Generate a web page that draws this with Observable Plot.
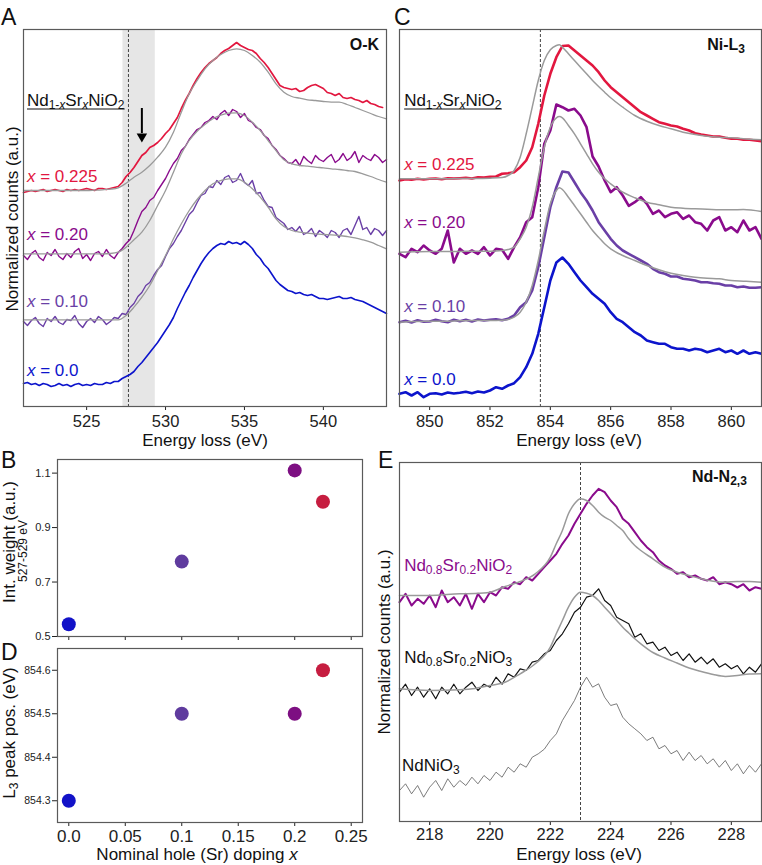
<!DOCTYPE html>
<html><head><meta charset="utf-8">
<script src="https://cdn.jsdelivr.net/npm/d3@7"></script>
<script src="https://cdn.jsdelivr.net/npm/@observablehq/plot@0.6"></script>
<style>
body{margin:0;background:#fff;}
#fig{position:relative;width:762px;height:865px;overflow:hidden;background:#fff;}
</style></head><body><div id="fig"></div>
<script>
// ================= DATA =================
// Panel A: O-K edge (energy loss, eV) — noisy spectra sampled every 0.25 eV
const eOK = [521,521.25,521.5,521.75,522,522.25,522.5,522.75,523,523.25,523.5,523.75,524,524.25,524.5,524.75,525,525.25,525.5,525.75,526,526.25,526.5,526.75,527,527.25,527.5,527.75,528,528.25,528.5,528.75,529,529.25,529.5,529.75,530,530.25,530.5,530.75,531,531.25,531.5,531.75,532,532.25,532.5,532.75,533,533.25,533.5,533.75,534,534.25,534.5,534.75,535,535.25,535.5,535.75,536,536.25,536.5,536.75,537,537.25,537.5,537.75,538,538.25,538.5,538.75,539,539.25,539.5,539.75,540,540.25,540.5,540.75,541,541.25,541.5,541.75,542,542.25,542.5,542.75,543,543.25,543.5,543.75,544];
const okX000 = [23,24,22,23, 21,23,22,20, 21,23,21,22, 20,22,23,21, 22,21,23,22, 22,24,23,25, 25,28,30,32, 35,40,44,49, 54,59,64,70, 76,82,89,98, 106,114,121,129, 136,143,149,154, 158,161,163,162, 165,163,164,162, 165,162,158,152, 148,142,138,132, 126,122,119,116, 115,113,114,112, 111,112,110,108, 108,107,108,109, 110,108,108,109, 107,106,105,103, 101,99,97,95, 93];
const okX010 = [85,81,86,89, 83,80,88,85, 90,84,82,87, 86,91,83,79, 85,88,84,90, 87,82,85,89, 88,93,92,99, 103,110,114,121, 124,131,137,141, 150,158,163,170, 176,184,192,196, 204,211,213,220, 219,226,222,229, 231,224,226,233, 224,221,226,213, 214,206,200,199, 189,186,183,177, 179,175,180,172, 174,178,170,176, 173,169,176,174, 169,176,178,172, 181,190,177,179, 172,178,176,171, 176];
const okX020 = [151,147,153,156, 149,146,154,151, 157,150,147,153, 149,155,158,148, 152,146,153,155, 150,157,151,148, 154,158,163,167, 176,186,195,199, 206,209,216,222, 228,236,243,248, 256,260,267,272, 277,279,284,286, 290,287,293,296, 291,297,295,289, 293,286,284,279, 277,271,268,261, 257,251,248,244, 243,247,241,250, 246,243,251,247, 245,249,252,244, 247,253,246,249, 255,244,251,248, 246,252,249,244, 247];
const okX0225 = [214,215,216,215, 216,217,215,216, 217,216,215,217, 216,217,216,217, 218,217,216,218, 218,217,218,219, 220,224,230,234, 239,245,251,254, 259,261,264,268, 273,277,283,289, 298,306,313,321, 328,334,339,343, 346,349,353,356, 358,361,364,361, 359,357,356,353, 348,344,339,333, 327,321,319,318, 317,318,315,316, 319,321,322,320, 318,314,313,311, 313,309,308,309, 307,306,304,306, 303,302,300,299, null];
// Panel A reference (gray) curves, sampled every 0.5 eV
const eOKref = [521,521.5,522,522.5,523,523.5,524,524.5,525,525.5,526,526.5,527,527.5,528,528.5,529,529.5,530,530.5,531,531.5,532,532.5,533,533.5,534,534.5,535,535.5,536,536.5,537,537.5,538,538.5,539,539.5,540,540.5,541,541.5,542,542.5,543,543.5,544];
const okRef010 = [86.7,86.7,86.7,86.7,86.7,86.7,86.7,86.7,86.7,86.7,86.7,86.7,86.7, 91,99.3,109.3,121,136,151,167.7,182.7,196,207,216,222.7,226,227.7,227.7,224.3,217.7,209.3,199.3,187.7,180,176,174.3,173.3,172.7,172,171.7,171,170,168.7,166.7,164.3,161,157.7];
const okRef020 = [152.7,152.7,152.7,152.7,152.7,152.7,152.7,152.7,152.7,152.7,152.7,153, 154.3,159.3,166.7,174.3,186,201,216,234.3,252.7,266,275.3,282,287.7,291.3,293.3,293.7,291,284.3,276,266,256,246.7,242.7,241,240.3,239.3,238.7,237.7,237,236,235,232.7,230,227,224.3];
const okRef0225 = [216,216,216,216,216,216,216,216,216, 216.3,216.7,217.3,218.7,223.3,229.3,234.3,241,249.3,259.3,274.3,294.3,312.7,326,337.7,346,352,356,357.7,356,351,344.3,334.3,322.7,314.3,310,308.3,306.7,306,305,304.3,304.3,302,299,296,293,290,287.7];
const bandOK = [527.3, 529.35];
const dashOK = [527.65];
const ticksOK = [525, 530, 535, 540];

// Panel C: Ni-L3 edge, sampled every 0.2 eV
const eNi = [849,849.2,849.4,849.6,849.8,850,850.2,850.4,850.6,850.8,851,851.2,851.4,851.6,851.8,852,852.2,852.4,852.6,852.8,853,853.2,853.4,853.6,853.8,854,854.2,854.4,854.6,854.8,855,855.2,855.4,855.6,855.8,856,856.2,856.4,856.6,856.8,857,857.2,857.4,857.6,857.8,858,858.2,858.4,858.6,858.8,859,859.2,859.4,859.6,859.8,860,860.2,860.4,860.6,860.8,861];
const niX000 = [12.7,14.3,11,14.3,9.3, 12.7,13.3,12,14,13, 13.7,14.7,13.3,15,14, 16,19.3,17.7,21,23.3, 29.3,39.3,52.7,72.7,99.3, 126,144,149,142.7,134.3, 126,119.3,112.7,107.7,102.7, 94.3,87.7,84.3,79.3,74.3, 71,66,64.3,62.7,62.7, 59.3,57.7,57.7,56,57.7, 56.7,54.3,56,57.7,54.3, 56,52.7,56,52.7,54.3, 52.7];
const niX010 = [84.3,85.7,84,86.3,84.7, 85,86.7,85.3,84.3,86.7, 85.3,86.7,85,87,86, 86.7,87.3,86.3,87.7,91, 99.3,104.3,116,139.3,169.3, 199.3,219.3,235,234,224.3, 214.3,206,196,184.3,176, 167.7,161,156,152.7,149.3, 146,142.7,137.7,134.3,132.7, 130,130,127.7,127,126, 124.3,124.3,123.3,122.7,121, 121,119.3,120,118.7,118.7, 119.3];
const niX020 = [152.7,149.3,157.7,154.3,161, 156,152.7,157.7,176,144, 157.7,152.7,156,152.7,159.3, 151,157.7,156.7,147.7,159.3, 169.3,184.3,189.3,219.3,262.7, 276,302,299.3,296,297.7, 291,279.3,250,240,226, 214.3,219.3,211,200.7,204.3, 209.3,202.7,192.7,196,189.3, 192.7,194.3,187.7,191,184.3, 182.7,176,186,189.3,176, 179.3,174.3,186,176,179.3, 167.7];
const niX0225 = [226,227.3,226.7,227.7,227, 227.7,228,227.3,228.3,228, 228.3,228.7,228,229.3,229, 229.7,230,232.7,233.3,234.3, 239.3,246,259.3,282.7,311, 332.7,349.3,360.5,361,356, 351,346,341,334.3,326, 319.3,314.3,309.3,304.3,299.3, 294.3,291,287.7,284.3,282.7, 281,280,277.7,276,273.3, 272,271,270,270,268.7, 267.7,267.7,266.7,266.7,266, 265.3];
const eNiRef = [849,849.5,850,850.5,851,851.5,852,852.4,852.6,852.8,853,853.2,853.4,853.6,853.8,854,854.2,854.3,854.4,854.6,854.8,855,855.2,855.4,855.6,855.8,856,856.4,856.8,857.2,857.6,858,858.4,858.8,859.2,859.6,860,860.4,861];
const niRef010 = [84.3,85,85.3,85.3,85.7,86,86,86.3,87,89.3,94.3,104.3,121,146,176,202.7,216,218.7,217,209.3,201,192.7,184.3,176,169.3,162.7,157.7,151,146,141,136.7,133.3,131,129.3,128.3,127.7,126,125.3,124.3];
const niRef020 = [154.3,154.7,155,155,155,155.3,155.3,156,157,159.3,167.7,179.3,199.3,229.3,259.3,279.3,288.7,290,288.7,281,272.7,262.7,252.7,242.7,234.3,227.7,222.7,214.3,208.7,204.3,201.7,199.3,198.3,197.7,197.3,196.7,196.7,197,195];
const niRef0225 = [227.7,227.7,227.7,227.7,228,228,228.3,229,231,236,249.3,272.7,299.3,326,346,356.7,361,361.7,359.3,352.7,346,339.3,332.7,326,320,314.3,308.7,299.3,291,285.3,281,277.7,274.3,272,270.3,269.3,268.7,267.7,266.7];
const dashNi = [853.67];
const ticksNi = [850, 852, 854, 856, 858, 860];

// Panel E: Nd-N2,3 edge, sampled every 0.2 eV
const eNd = [217,217.2,217.4,217.6,217.8,218,218.2,218.4,218.6,218.8,219,219.2,219.4,219.6,219.8,220,220.2,220.4,220.6,220.8,221,221.2,221.4,221.6,221.8,222,222.2,222.4,222.6,222.8,223,223.2,223.4,223.6,223.8,224,224.2,224.4,224.6,224.8,225,225.2,225.4,225.6,225.8,226,226.2,226.4,226.6,226.8,227,227.2,227.4,227.6,227.8,228,228.2,228.4,228.6,228.8,229];
const ndNiO2Sr = [219.3,227.7,216,222.7,217.7, 226,214.3,231,219.3,224.3, 216,227.7,212.7,227.7,219.3, 229.3,226,234.3,232.7,239.3, 237.3,244.3,241,247.7,254.3, 261,267.7,277.7,286,297.7, 307.7,317.7,326,332.7,329.3, 321,314.3,302.7,297.7,289.3, 281,274.3,269.3,261,256, 252.7,247.7,249.3,244.3,246, 242.7,241,244.3,237.3,239.3, 237.3,234,237.3,231,234.3, 232.7];
const ndNiO3Sr = [129.3,137.3,126,134.3,124.3, 132.7,122.7,134.3,127.7,137.3, 127.7,134.3,139.3,131,137.3, 134.3,144.3,137.3,147.7,144.3, 152.7,151,159.3,161,167.7, 171,181,187.7,197.7,209.3, 214.3,224.3,226,232.7,221, 216,204.3,201,197.7,184.3, 187.7,177.7,179.3,171,174.3, 166,169.3,161,167.7,159.3, 164.3,157.7,162.7,154.3,157.7, 152.7,156,147.7,154.3,149.3, 157.7];
const ndNiO3 = [31,37.7,27.7,36,24.3, 34.3,41,31,42.7,34.3, 41,36,44.3,37.7,46, 41,49.3,44.3,54.3,49.3, 57.7,54.3,64.3,67.7,72.3, 81,87.7,101,111,121, 134.3,144.3,134.3,137.7,124.3, 116,117.7,104.3,97.7,92.7, 87.7,81,84.3,72.7,76, 67.7,71,61,69.3,61, 66,57.7,62.7,54.3,61, 51,57.7,47.7,56,49.3, 57.7];
const eNdRef = [217,218,219,219.5,220,220.5,221,221.5,222,222.2,222.4,222.6,222.8,223,223.2,223.4,223.6,223.8,224,224.2,224.4,224.6,224.8,225,225.4,225.8,226.2,226.6,227,227.4,227.8,228.2,228.6,229];
const ndRefNiO2 = [226,226,227.7,228,229.3,235,240,247.7,264.3,278,291,307.7,317.7,322.7,321,316,309.3,304.3,301,296,291,282.7,276,271,262.7,254.3,249.3,246,242.7,240.3,239.3,240,240,239.3];
const ndRefNiO3 = [132.7,131,131.7,133,136,139.3,147.7,157.7,174.3,188,201,214.3,224.3,229.3,228.3,226,221,214.3,207.7,201,194.3,188.5,182.7,177.7,169,163.5,158.5,153.5,150,147,145,146,147.5,147.7];
const dashNd = [223];
const ticksNd = [218, 220, 222, 224, 226, 228];

// Panels B and D: per-doping summary values
const dopingX = [0.0, 0.1, 0.2, 0.225];
const intWeight = [0.545, 0.775, 1.11, 0.995];
const peakPos = [854.3, 854.5, 854.5, 854.6];
const ticksIntW = [0.5, 0.7, 0.9, 1.1];
const ticksPeak = [854.3, 854.4, 854.5, 854.6];
const ticksDoping = [0, 0.05, 0.1, 0.15, 0.2, 0.25];
const dopingTickLabels = ["0.0", "0.05", "0.1", "0.15", "0.2", "0.25"];
const dopingLabels = ["0.0", "0.10", "0.20", "0.225"];

// ================= STYLE =================
const FONT = '"Liberation Sans", Arial, Helvetica, sans-serif';
const C_RED = "#e2173f", C_PUR = "#8a0b8c", C_VIO = "#6a3fa6", C_BLU = "#0c14cc";
const DOT_COLORS = ["#1212c8", "#5f3b9e", "#7d0f82", "#c61d40"];
const GRAY = "#9a9a9a", FRAME = "#5a5a5a";
const fig = document.getElementById("fig");

function mount(p, left, top) {
  p.style.position = "absolute"; p.style.left = left + "px"; p.style.top = top + "px";
  fig.appendChild(p); return p;
}
function sc(p, name, v) {
  const s = p.scale(name);
  return s.apply ? s.apply(v) : d3.scaleLinear(s.domain, s.range)(v);
}
const st = (fs) => ({fontFamily: FONT, fontSize: fs + "px", color: "#222", background: "transparent", overflow: "visible"});
const line = (xs, ys, stroke, w, extra = {}) => Plot.line(xs, {x: xs, y: ys, stroke, strokeWidth: w, strokeLinejoin: "round", ...extra});

// ---------- Panel A ----------
const pA = mount(Plot.plot({
  width: 390, height: 445, marginLeft: 23, marginRight: 4, marginTop: 29, marginBottom: 39,
  style: st(16.5),
  x: {domain: [521, 544], ticks: ticksOK, tickSize: 4, tickPadding: 5, label: null},
  y: {domain: [0, 377], axis: null},
  marks: [
    Plot.rect([bandOK], {x1: d => d[0], x2: d => d[1], fill: "#e6e6e6"}),
    Plot.ruleX(dashOK, {stroke: "#444", strokeWidth: 1, strokeDasharray: "3,2"}),
    line(eOK, okX000, C_BLU, 1.6),
    line(eOK, okX010, C_VIO, 1.4),
    line(eOK, okX020, C_PUR, 1.4),
    line(eOK, okX0225, C_RED, 1.7),
    line(eOKref, okRef010, GRAY, 1.3, {curve: "monotone-x"}),
    line(eOKref, okRef020, GRAY, 1.3, {curve: "monotone-x"}),
    line(eOKref, okRef0225, GRAY, 1.3, {curve: "monotone-x"}),
    Plot.ruleX([528.5], {y1: 298, y2: 273, stroke: "#000", strokeWidth: 2}),
    Plot.dot([528.5], {x: d => d, y: 270, symbol: "triangle", rotate: 180, r: 3.9, fill: "#000", stroke: "none"}),
    Plot.frame({stroke: FRAME, strokeWidth: 1.2})
  ]
}), 0, 0);

// ---------- Panel C ----------
const pC = mount(Plot.plot({
  width: 382, height: 445, marginLeft: 19, marginRight: 1, marginTop: 29, marginBottom: 39,
  style: st(16.5),
  x: {domain: [849, 861], ticks: ticksNi, tickSize: 4, tickPadding: 5, label: null},
  y: {domain: [0, 377], axis: null},
  marks: [
    Plot.ruleX(dashNi, {stroke: "#444", strokeWidth: 1, strokeDasharray: "3,2"}),
    line(eNi, niX000, C_BLU, 2.6),
    line(eNi, niX010, C_VIO, 2.6),
    line(eNi, niX020, C_PUR, 2.6),
    line(eNi, niX0225, C_RED, 2.6),
    line(eNiRef, niRef010, GRAY, 1.5, {curve: "monotone-x"}),
    line(eNiRef, niRef020, GRAY, 1.5, {curve: "monotone-x"}),
    line(eNiRef, niRef0225, GRAY, 1.5, {curve: "monotone-x"}),
    Plot.frame({stroke: FRAME, strokeWidth: 1.2})
  ]
}), 380, 0);

// ---------- Panel B ----------
const pB = mount(Plot.plot({
  width: 380, height: 205, marginLeft: 57, marginRight: 18, marginTop: 19, marginBottom: 9,
  style: st(11),
  color: {type: "identity"},
  x: {domain: [-0.01, 0.26], ticks: ticksDoping, tickFormat: () => "", tickSize: 4, label: null},
  y: {domain: [0.5, 1.15], ticks: ticksIntW, tickFormat: d => d.toFixed(1), tickSize: 5, tickPadding: 2, label: null},
  marks: [
    Plot.frame({stroke: FRAME, strokeWidth: 1.2}),
    Plot.dot(dopingX, {x: dopingX, y: intWeight, r: 7, fill: DOT_COLORS, stroke: "none"})
  ]
}), 0, 440);

// ---------- Panel D ----------
const pD = mount(Plot.plot({
  width: 380, height: 220, marginLeft: 57, marginRight: 18, marginTop: 3, marginBottom: 43,
  style: st(17),
  color: {type: "identity"},
  x: {domain: [-0.01, 0.26], ticks: ticksDoping, tickFormat: d => dopingTickLabels[ticksDoping.indexOf(d)], tickSize: 4, tickPadding: 3, label: null},
  y: {domain: [854.25, 854.65], ticks: ticksPeak, tickFormat: d => d.toFixed(1), tickSize: 5, tickPadding: 2, label: null},
  marks: [
    Plot.frame({stroke: FRAME, strokeWidth: 1.2}),
    Plot.dot(dopingX, {x: dopingX, y: peakPos, r: 7, fill: DOT_COLORS, stroke: "none"})
  ]
}), 0, 645);
d3.select(pD).selectAll('g[aria-label^="y-axis"]').style("font-size", "10.5px");

// ---------- Panel E ----------
const pE = mount(Plot.plot({
  width: 382, height: 420, marginLeft: 19, marginRight: 1, marginTop: 17, marginBottom: 44,
  style: st(16.5),
  x: {domain: [217, 229], ticks: ticksNd, tickSize: 4, tickPadding: 3, label: null},
  y: {domain: [0, 359], axis: null},
  marks: [
    Plot.ruleX(dashNd, {stroke: "#444", strokeWidth: 1, strokeDasharray: "3,2"}),
    line(eNd, ndNiO3, "#5a5a5a", 0.8),
    line(eNd, ndNiO3Sr, "#111", 1.2),
    line(eNd, ndNiO2Sr, C_PUR, 2),
    line(eNdRef, ndRefNiO3, GRAY, 1.5, {curve: "monotone-x"}),
    line(eNdRef, ndRefNiO2, GRAY, 1.5, {curve: "monotone-x"}),
    Plot.frame({stroke: FRAME, strokeWidth: 1.2})
  ]
}), 380, 445);

// ================= ANNOTATIONS =================
const ov = d3.select(fig).append("svg").attr("width", 762).attr("height", 865)
  .style("position", "absolute").style("left", "0px").style("top", "0px")
  .style("pointer-events", "none").style("font-family", FONT).style("overflow", "visible");

function txt(x, y, html, o = {}) {
  const t = ov.append("text").attr("x", x).attr("y", y)
    .attr("font-size", o.size || 17).attr("fill", o.fill || "#111")
    .attr("text-anchor", o.anchor || "start").attr("font-weight", o.weight || "normal");
  if (o.rotate) t.attr("transform", `rotate(-90 ${x} ${y})`);
  t.html(html);
  if (o.underline) {
    const bb = t.node().getBBox();
    ov.append("line").attr("x1", bb.x).attr("x2", bb.x + bb.width).attr("y1", y + 3).attr("y2", y + 3)
      .attr("stroke", o.fill || "#111").attr("stroke-width", 1.2);
  }
  return t;
}
const SUB = (s, it = false) => `<tspan font-size="12" dy="3"${it ? ' font-style="italic"' : ""}>${s}</tspan>`;
const UP = (s) => `<tspan dy="-3">${s}</tspan>`;
const formulaNSNO = `Nd${SUB("1-")}<tspan font-size="12" font-style="italic">x</tspan>${UP("Sr")}${SUB("x", true)}${UP("NiO")}${SUB("2")}`;
const xLabel = (v) => `<tspan font-style="italic">x</tspan> = ${v}`;
const absX = (p, left, v) => left + sc(p, "x", v);
const absY = (p, top, v) => top + sc(p, "y", v);

// Panel letters
txt(1, 25, "A", {size: 23}); txt(394, 25, "C", {size: 23});
txt(1, 468, "B", {size: 23}); txt(1, 660, "D", {size: 23}); txt(378, 468, "E", {size: 23});

// Panel A texts
const specColors = [C_BLU, C_VIO, C_PUR, C_RED];
const okLabelY = [30, 99, 166, 224];
dopingLabels.forEach((v, i) => txt(absX(pA, 0, 521.25), absY(pA, 0, okLabelY[i]), xLabel(v), {fill: specColors[i]}));
txt(absX(pA, 0, 521.25), absY(pA, 0, 300), formulaNSNO, {underline: true});
txt(absX(pA, 0, 543.56), absY(pA, 0, 356), "O-K", {weight: "bold", anchor: "end", size: 16});
txt(205, 446, "Energy loss (eV)", {anchor: "middle"});
txt(17.5, 219, "Normalized counts (a.u.)", {anchor: "middle", rotate: true});

// Panel C texts
const niLabelY = [21, 94, 178, 236];
dopingLabels.forEach((v, i) => txt(absX(pC, 380, 849.17), absY(pC, 0, niLabelY[i]), xLabel(v), {fill: specColors[i]}));
txt(absX(pC, 380, 849.17), absY(pC, 0, 300), formulaNSNO, {underline: true});
txt(absX(pC, 380, 860.47), absY(pC, 0, 356), `Ni-L<tspan font-size="12" dy="3">3</tspan>`, {weight: "bold", anchor: "end", size: 16});
txt(579, 446, "Energy loss (eV)", {anchor: "middle"});

// Panel B / D axis titles
txt(15, 542, "Int. weight (a.u.)", {anchor: "middle", rotate: true});
txt(27, 551, "527-529 eV", {anchor: "middle", rotate: true, size: 12});
txt(15, 733, `L${SUB("3")}${UP(" peak pos. (eV)")}`, {anchor: "middle", rotate: true});
txt(197, 860, `Nominal hole (Sr) doping <tspan font-style="italic">x</tspan>`, {anchor: "middle"});

// Panel E texts
txt(absX(pE, 380, 217.17), absY(pE, 445, 250), `Nd${SUB("0.8")}${UP("Sr")}${SUB("0.2")}${UP("NiO")}${SUB("2")}`, {fill: C_PUR});
txt(absX(pE, 380, 217.17), absY(pE, 445, 158), `Nd${SUB("0.8")}${UP("Sr")}${SUB("0.2")}${UP("NiO")}${SUB("3")}`, {fill: "#111"});
txt(absX(pE, 380, 217.1), absY(pE, 445, 50), `NdNiO${SUB("3")}`, {fill: "#111"});
txt(absX(pE, 380, 228.53), absY(pE, 445, 339), `Nd-N<tspan font-size="12" dy="3">2,3</tspan>`, {weight: "bold", anchor: "end", size: 16});
txt(579, 860, "Energy loss (eV)", {anchor: "middle"});
txt(390, 642, "Normalized counts (a.u.)", {anchor: "middle", rotate: true});
</script></body></html>
